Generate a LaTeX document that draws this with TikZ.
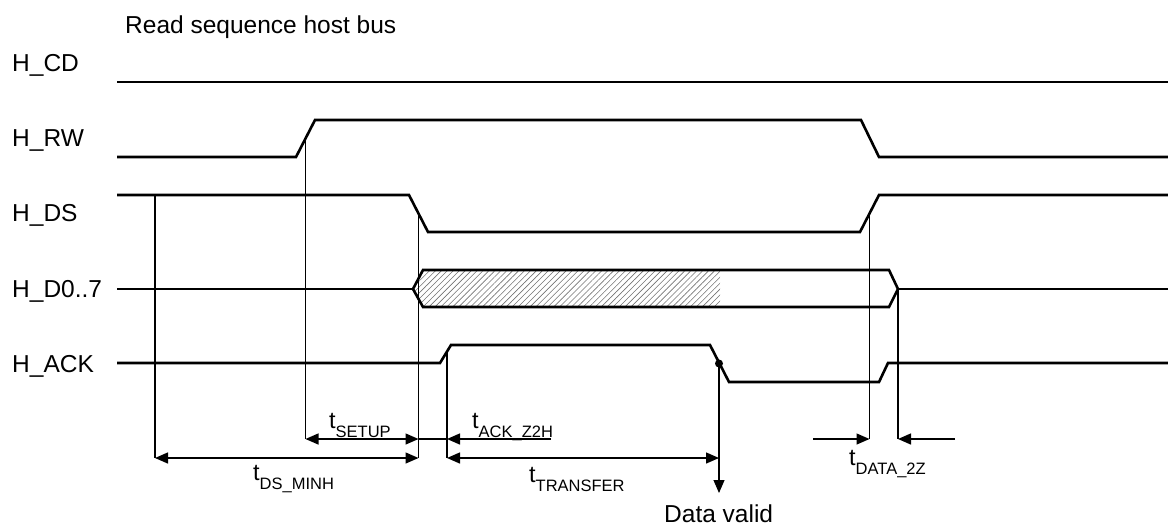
\documentclass[tikz,border=0pt]{standalone}
\usepackage{fontspec}
\setmainfont{Liberation Sans}
\usetikzlibrary{arrows.meta,patterns.meta}
\newcommand\tlab[1]{t\raisebox{-9pt}{\fontsize{16.5}{19}\selectfont #1}}
\begin{document}
\begin{tikzpicture}[x=1pt,y=-1pt,
  sig/.style={line width=2.6pt, line join=miter},
  guide/.style={line width=1.1pt},
  dimline/.style={line width=1.4pt},
  tipend/.style={-{Triangle[length=13pt,width=11pt]}},
  bothends/.style={{Triangle[length=13pt,width=11pt]}-{Triangle[length=13pt,width=11pt]}},
  lbl/.style={anchor=base west, inner sep=0pt, font=\fontsize{24.5}{28}\selectfont},
  tl/.style={anchor=base west, inner sep=0pt, font=\fontsize{23.5}{28}\selectfont},
]
\useasboundingbox (0,0) rectangle (1168,528);

% key points
\coordinate (rwmid) at (305.5,138.5);
\coordinate (dsfall) at (418.5,213.5);
\coordinate (ackrise) at (447,351.5);
\coordinate (ackdot) at (719,363.5);
\coordinate (dsrise) at (869.5,213.5);
\coordinate (dbusend) at (898,289);
\coordinate (dsleft) at (155,195);

\coordinate (setupL) at (305.5,439);
\coordinate (setupR) at (418.5,439);
\coordinate (ackL) at (447,439);
\coordinate (ackR) at (551,439);
\coordinate (minhL) at (155,458);
\coordinate (minhR) at (418.5,458);
\coordinate (trL) at (447,458);
\coordinate (trR) at (719,458);
\coordinate (valid) at (719,493);
\coordinate (d2zA) at (869.5,439);
\coordinate (d2zAs) at (813,439);
\coordinate (d2zB) at (898,439);
\coordinate (d2zBs) at (955,439);

% hatched data region
\fill[pattern={Lines[angle=45,distance=4.2pt,line width=0.6pt]}, pattern color=black!55]
  (414,289) -- (423.5,271) -- (720,271) -- (720,306) -- (423.5,306) -- cycle;

% signals
\draw[sig] (117,82) -- (1168,82);
\draw[sig] (117,157) -- (296,157) -- (315,120) -- (861,120) -- (879,157) -- (1168,157);
\draw[sig] (117,195) -- (409,195) -- (428,232) -- (860,232) -- (879,195) -- (1168,195);
\draw[sig] (117,289) -- (413,289);
\draw[sig] (413,289) -- (423,270) -- (889,270) -- (898,289) -- (889,307) -- (423,307) -- cycle;
\draw[sig] (898,289) -- (1168,289);
\draw[sig] (117,363) -- (440,363) -- (451,345) -- (710,345) -- (729,382) -- (879,382) -- (888,363) -- (1168,363);
\fill (ackdot) circle (4pt);

% guide lines
\draw[guide] (dsleft) -- (minhL);
\draw[guide] (rwmid) -- (setupL);
\draw[guide] (dsfall) -- (minhR);
\draw[guide] (ackrise) -- (trL);
\draw[guide] (dsrise) -- (d2zA);
\draw[guide] (dbusend) -- (d2zB);
\draw[guide, tipend] (ackdot) -- (valid);

% dimension arrows
\draw[dimline, bothends] (setupL) -- (setupR);
\draw[dimline] (setupR) -- (ackL);
\draw[dimline, tipend] (ackR) -- (ackL);
\draw[dimline, bothends] (minhL) -- (minhR);
\draw[dimline, bothends] (trL) -- (trR);
\draw[dimline, tipend] (d2zAs) -- (d2zA);
\draw[dimline, tipend] (d2zBs) -- (d2zB);

% texts
\node[lbl] (title) at (125,33) {Read sequence host bus};
\node[lbl] (lcd) at (12,71) {H\_CD};
\node[lbl] (lrw) at (12,146) {H\_RW};
\node[lbl] (lds) at (12,221.5) {H\_DS};
\node[lbl] (ld) at (12,297) {H\_D0..7};
\node[lbl] (lack) at (12,372) {H\_ACK};

\node[tl] (tsetup) at (329,428) {\tlab{SETUP}};
\node[tl] (tackz) at (472,428) {\tlab{ACK\_Z2H}};
\node[tl] (tminh) at (253,480) {\tlab{DS\_MINH}};
\node[tl] (ttrans) at (529,482) {\tlab{TRANSFER}};
\node[tl] (tdata) at (849,465) {\tlab{DATA\_2Z}};
\node[lbl] (dvalid) at (664,522) {Data valid};
\end{tikzpicture}
\end{document}
